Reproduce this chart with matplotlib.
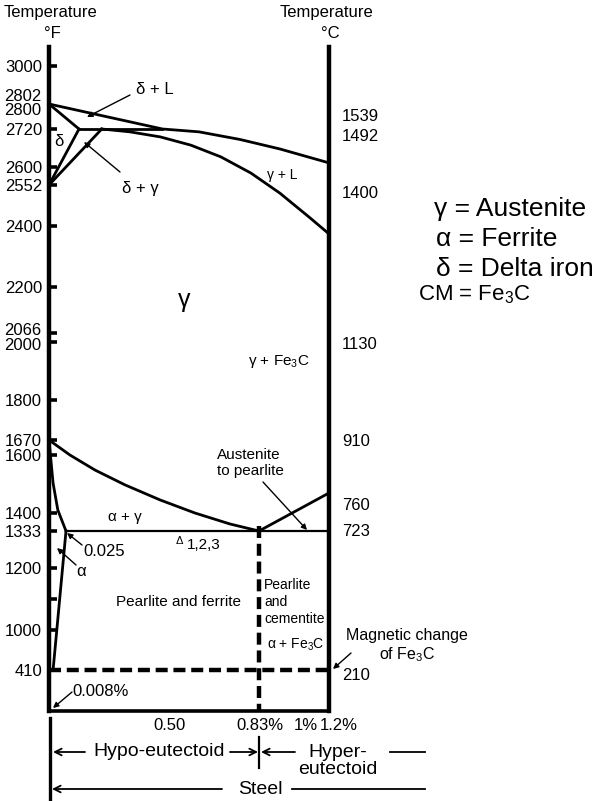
import numpy as np
import matplotlib
matplotlib.use('Agg')
import matplotlib.pyplot as plt

plt.rcParams['font.family'] = ['Liberation Sans', 'DejaVu Sans']
plt.rcParams['mathtext.fontset'] = 'custom'
plt.rcParams['mathtext.rm'] = 'Liberation Sans'
plt.rcParams['mathtext.default'] = 'regular'

# Escalas del diagrama (esquematico, no lineal)
t_anchor = [70, 410, 1000, 1100, 1200, 1333, 1400, 1600, 1670, 1800, 2000, 2066,
            2200, 2400, 2552, 2600, 2720, 2802, 3000, 3100]
t_pos = [0, 41, 81, 112, 143, 180, 198, 256, 271, 311, 369, 378,
         424, 485, 526, 544, 582, 607, 645, 664]
c_anchor = [0, 0.025, 0.5, 0.83, 1.2]
c_pos = [0, 17, 120, 210, 280]

# Datos del diagrama hierro-carbono (C en %, T en F)
liquidus_c = [0, 0.47, 0.61, 0.76, 0.94, 1.2]
liquidus_t = [2802, 2720, 2711, 2687, 2657, 2613]
solidus_c = [0.19, 0.32, 0.46, 0.58, 0.69, 0.80, 0.94, 1.10, 1.2]
solidus_t = [2720, 2711, 2695, 2669, 2632, 2584, 2522, 2430, 2374]
peritectic_c = [0.085, 0.47]
peritectic_t = [2720, 2720]
delta_l_c = [0, 0.085]
delta_l_t = [2802, 2720]
delta_c = [0.085, 0]
delta_t = [2720, 2552]
gamma_delta_c = [0.19, 0]
gamma_delta_t = [2720, 2552]
a3_c = [0, 0.043, 0.159, 0.297, 0.459, 0.595, 0.724, 0.83]
a3_t = [1670, 1600, 1548, 1497, 1445, 1400, 1359, 1333]
acm_c = [0.83, 1.2]
acm_t = [1333, 1469]
eutectoid_c = [0.025, 1.2]
eutectoid_t = [1333, 1333]
alpha_c = [0, 0.006, 0.013, 0.025]
alpha_t = [1670, 1503, 1410, 1333]
alpha_solvus_c = [0.025, 0.006]
alpha_solvus_t = [1333, 410]
magnetic_c = [0, 1.2]
magnetic_t = [410, 410]
eut_vert_c = [0.83, 0.83]
eut_vert_t = [1350, 70]

f_ticks = [3000, 2720, 2600, 2552, 2400, 2200, 2066, 2000, 1800, 1670, 1600,
           1400, 1333, 1200, 1100, 1000, 410]
f_labels = ['3000', '2720', '2600', '2552', '2400', '2200', '', '', '1800',
            '1670', '1600', '1400', '1333', '1200', '', '1000', '410']
# etiquetas desplazadas respecto a su marca
f_extra = ['2802', '2800', '2066', '2000']
f_extra_t = [2802, 2802, 2066, 2000]
f_extra_nudge = [7, -7, 2, -4]
c_labels = ['1539', '1492', '1400', '1130', '910', '760', '723', '210']
c_values = [1539, 1492, 1400, 1130, 910, 760, 723, 210]
c_nudge = [-13, -7, -9, -12, -2, 7, -1, -6]
x_ticks = [0.5, 0.83, 1.0, 1.2]
x_labels = ['0.50', '0.83%', '1%', '1.2%']
x_nudge = [0, 1, 15, 10]


def piecewise(xa, ya):
    xa = np.asarray(xa, float)
    ya = np.asarray(ya, float)

    def f(v):
        v = np.asarray(v, float)
        out = np.interp(v, xa, ya)
        lo = ya[0] + (v - xa[0]) * (ya[1] - ya[0]) / (xa[1] - xa[0])
        hi = ya[-1] + (v - xa[-1]) * (ya[-1] - ya[-2]) / (xa[-1] - xa[-2])
        out = np.where(v < xa[0], lo, out)
        out = np.where(v > xa[-1], hi, out)
        return out
    return f


fig = plt.figure(figsize=(5.99, 8.01), dpi=100)

# capa en pixeles para textos y flechas
ov = fig.add_axes([0, 0, 1, 1])
ov.set_xlim(0, 599)
ov.set_ylim(801, 0)
ov.axis('off')

ax = fig.add_axes([49 / 599, 90 / 801, 280 / 599, 664 / 801])
ax.patch.set_visible(False)
ax.set_xscale('function', functions=(piecewise(c_anchor, c_pos), piecewise(c_pos, c_anchor)))
ax.set_yscale('function', functions=(piecewise(t_anchor, t_pos), piecewise(t_pos, t_anchor)))
ax.set_xlim(0, 1.2)
ax.set_ylim(70, 3100)

for s in ['left', 'right']:
    ax.spines[s].set_linewidth(3.2)
ax.spines['bottom'].set_linewidth(2.6)
ax.spines['top'].set_visible(False)

ax.set_yticks(f_ticks, f_labels, fontsize=12)
ax.minorticks_off()
ax.tick_params(axis='y', direction='in', length=6, width=2.6, pad=5)
ax.set_xticks([])

lw = 2.0
ax.plot(liquidus_c, liquidus_t, color='k', lw=lw)
ax.plot(solidus_c, solidus_t, color='k', lw=lw)
ax.plot(peritectic_c, peritectic_t, color='k', lw=lw)
ax.plot(delta_l_c, delta_l_t, color='k', lw=lw)
ax.plot(delta_c, delta_t, color='k', lw=lw)
ax.plot(gamma_delta_c, gamma_delta_t, color='k', lw=lw)
ax.plot(a3_c, a3_t, color='k', lw=lw)
ax.plot(acm_c, acm_t, color='k', lw=lw)
ax.plot(eutectoid_c, eutectoid_t, color='k', lw=1.6)
ax.plot(alpha_c, alpha_t, color='k', lw=lw)
ax.plot(alpha_solvus_c, alpha_solvus_t, color='k', lw=lw)
ax.plot(magnetic_c, magnetic_t, color='k', lw=3.2, ls=(0, (2.7, 1.3)))
ax.plot(eut_vert_c, eut_vert_t, color='k', lw=3.2, ls=(0, (2.7, 1.3)))

for lab, tv, dy in zip(f_extra, f_extra_t, f_extra_nudge):
    ax.annotate(lab, xy=(0, tv), xytext=(-8, dy), textcoords='offset pixels',
                ha='right', va='center', fontsize=12, annotation_clip=False)
for lab, cv, dy in zip(c_labels, c_values, c_nudge):
    ax.annotate(lab, xy=(1.2, cv * 9 / 5 + 32), xytext=(13, dy), textcoords='offset pixels',
                ha='left', va='center', fontsize=12, annotation_clip=False)
for lab, xv, dx in zip(x_labels, x_ticks, x_nudge):
    ax.annotate(lab, xy=(xv, 70), xytext=(dx, -14), textcoords='offset pixels',
                ha='center', va='center', fontsize=12, annotation_clip=False)

# titulos de ejes
ov.text(50, 13, 'Temperature', ha='center', va='center', fontsize=12)
ov.text(52, 33, '°F', ha='center', va='center', fontsize=12)
ov.text(327, 13, 'Temperature', ha='center', va='center', fontsize=12)
ov.text(330, 33, '°C', ha='center', va='center', fontsize=12)

# textos de regiones
ov.text(155, 89, 'δ + L', ha='center', va='center', fontsize=12)
ov.text(59, 142, 'δ', ha='center', va='center', fontsize=12)
ov.text(140, 189, 'δ + γ', ha='center', va='center', fontsize=12)
ov.text(282, 175, 'γ + L', ha='center', va='center', fontsize=10)
ov.text(184, 300, 'γ', ha='center', va='center', fontsize=18)
ov.text(279, 361, 'γ + Fe$_3$C', ha='center', va='center', fontsize=11)
ov.text(217, 463, 'Austenite\nto pearlite', ha='left', va='center', fontsize=11, linespacing=1.2)
ov.text(125, 517, 'α + γ', ha='center', va='center', fontsize=11)
ov.text(179, 541, 'Δ', ha='center', va='center', fontsize=8)
ov.text(204, 545, '1,2,3', ha='center', va='center', fontsize=11)
ov.text(104, 551, '0.025', ha='center', va='center', fontsize=12)
ov.text(81, 571, 'α', ha='center', va='center', fontsize=12)
ov.text(179, 602, 'Pearlite and ferrite', ha='center', va='center', fontsize=11)
ov.text(264, 602, 'Pearlite\nand\ncementite', ha='left', va='center', fontsize=10, linespacing=1.25)
ov.text(296, 645, 'α + Fe$_3$C', ha='center', va='center', fontsize=10)
ov.text(407, 646, 'Magnetic change\nof Fe$_3$C', ha='center', va='center', fontsize=11.5,
        linespacing=1.15)
ov.text(101, 692, '0.008%', ha='center', va='center', fontsize=12)

arrows = [((130, 95), (87, 117)), ((120, 172), (84, 142)), ((263, 482), (307, 530)),
          ((82, 545), (67, 533)), ((76, 565), (57, 548)), ((351, 653), (333, 669)),
          ((72, 692), (53, 708))]
for tail, head in arrows:
    ov.annotate('', xy=head, xytext=tail,
                arrowprops=dict(arrowstyle='-|>', lw=1.0, color='k', mutation_scale=8,
                                shrinkA=0, shrinkB=0))

# leyenda
ov.text(434, 209, 'γ = Austenite', ha='left', va='center', fontsize=19)
ov.text(436, 239, 'α = Ferrite', ha='left', va='center', fontsize=19)
ov.text(436, 269, 'δ = Delta iron', ha='left', va='center', fontsize=19)
ov.text(418, 295, 'CM = Fe$_3$C', ha='left', va='center', fontsize=16)

# anotaciones inferiores
aprops = dict(arrowstyle='->', lw=1.3, color='k', mutation_scale=12, shrinkA=0, shrinkB=0)
ov.plot([50, 50], [718, 801], color='k', lw=2.4)
ov.plot([259, 259], [737, 768], color='k', lw=1.6)
ov.annotate('', xy=(53, 752), xytext=(85, 752), arrowprops=aprops)
ov.text(159, 752, 'Hypo-eutectoid', ha='center', va='center', fontsize=14)
ov.annotate('', xy=(258, 752), xytext=(230, 752), arrowprops=aprops)
ov.annotate('', xy=(261, 752), xytext=(295, 752), arrowprops=aprops)
ov.text(338, 761, 'Hyper-\neutectoid', ha='center', va='center', fontsize=14, linespacing=0.95)
ov.plot([390, 425], [752, 752], color='k', lw=1.3)
ov.annotate('', xy=(52, 789), xytext=(222, 789), arrowprops=aprops)
ov.text(260, 789, 'Steel', ha='center', va='center', fontsize=14)
ov.plot([292, 425], [789, 789], color='k', lw=1.3)

fig.savefig('out.png', dpi=100)
